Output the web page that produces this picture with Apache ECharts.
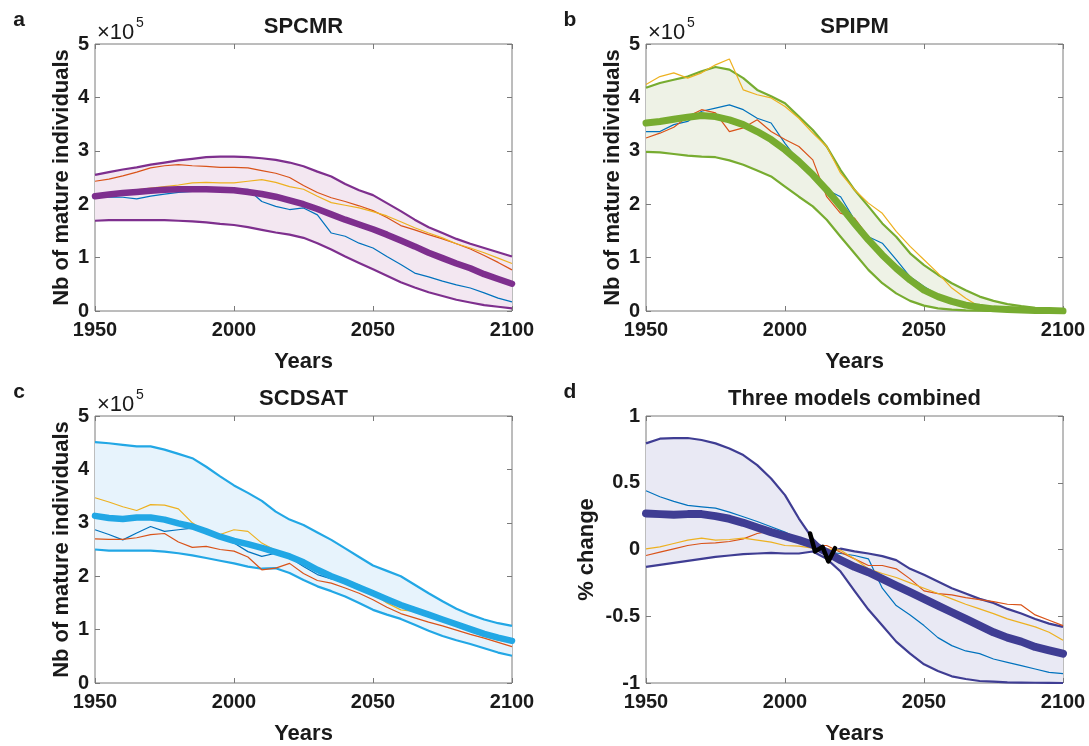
<!DOCTYPE html>
<html><head><meta charset="utf-8">
<script src="https://cdn.jsdelivr.net/npm/echarts@6/dist/echarts.min.js"></script>
<style>html,body{margin:0;padding:0;background:#fff}#c{width:1089px;height:746px}</style>
</head><body><div id="c"></div>
<script>
// ---------- DATA ----------
const years = [1950,1955,1960,1965,1970,1975,1980,1985,1990,1995,2000,2005,2010,2015,2020,2025,2030,2035,2040,2045,2050,2055,2060,2065,2070,2075,2080,2085,2090,2095,2100];
const xTicks = [1950, 2000, 2050, 2100];

// Panel a: SPCMR (x10^5)
const aUpper  = [2.55,2.60,2.65,2.69,2.74,2.78,2.82,2.85,2.88,2.89,2.89,2.88,2.86,2.83,2.78,2.71,2.61,2.52,2.38,2.26,2.17,2.02,1.87,1.71,1.57,1.46,1.35,1.26,1.18,1.10,1.02];
const aMean   = [2.15,2.18,2.21,2.23,2.25,2.27,2.28,2.28,2.28,2.27,2.26,2.23,2.19,2.14,2.07,2.00,1.91,1.81,1.71,1.62,1.53,1.43,1.32,1.21,1.09,0.99,0.89,0.80,0.69,0.60,0.51];
const aLower  = [1.69,1.70,1.70,1.70,1.70,1.70,1.69,1.68,1.66,1.63,1.61,1.57,1.52,1.47,1.43,1.37,1.27,1.15,1.02,0.90,0.78,0.66,0.54,0.44,0.35,0.28,0.21,0.16,0.11,0.08,0.05];
const aBlue   = [2.15,2.13,2.13,2.10,2.15,2.19,2.22,2.24,2.26,2.27,2.28,2.28,2.05,1.96,1.90,1.93,1.80,1.46,1.40,1.27,1.18,1.02,0.87,0.71,0.64,0.56,0.49,0.43,0.34,0.24,0.17];
const aRed    = [2.43,2.47,2.53,2.60,2.68,2.72,2.74,2.72,2.71,2.69,2.69,2.68,2.63,2.58,2.50,2.35,2.22,2.12,2.05,1.97,1.88,1.75,1.60,1.52,1.43,1.35,1.26,1.16,1.04,0.91,0.77];
const aYellow = [2.18,2.21,2.24,2.27,2.30,2.33,2.36,2.40,2.41,2.40,2.40,2.43,2.46,2.41,2.33,2.28,2.15,2.03,1.98,1.93,1.86,1.78,1.67,1.56,1.46,1.37,1.26,1.18,1.09,0.99,0.89];

// Panel b: SPIPM (x10^5)
const bUpper  = [4.18,4.27,4.33,4.39,4.49,4.57,4.52,4.36,4.14,4.02,3.89,3.64,3.39,3.08,2.64,2.27,1.96,1.64,1.39,1.08,0.86,0.68,0.52,0.39,0.27,0.19,0.13,0.09,0.06,0.04,0.02];
const bMean   = [3.52,3.55,3.59,3.63,3.66,3.64,3.58,3.49,3.36,3.21,3.02,2.80,2.55,2.27,1.96,1.64,1.33,1.05,0.80,0.58,0.39,0.27,0.18,0.11,0.07,0.04,0.03,0.02,0.01,0.01,0.00];
const bLower  = [2.98,2.97,2.94,2.91,2.89,2.88,2.82,2.74,2.63,2.52,2.33,2.14,1.96,1.71,1.39,1.08,0.77,0.52,0.33,0.19,0.10,0.05,0.025,0.01,0.005,0,0,0,0,0,0];
const bBlue   = [3.36,3.36,3.49,3.55,3.74,3.80,3.86,3.77,3.61,3.52,3.14,2.80,2.61,2.27,2.14,1.71,1.39,1.27,0.96,0.64,0.46,0.30,0.18,0.10,0.05,0.03,0.01,0,0,0,0];
const bRed    = [3.24,3.33,3.44,3.64,3.77,3.71,3.36,3.43,3.58,3.36,3.21,3.08,2.83,2.14,1.83,1.74,1.39,1.08,0.77,0.55,0.39,0.25,0.15,0.08,0.04,0.02,0.01,0,0,0,0];
const bYellow = [4.24,4.39,4.46,4.36,4.46,4.61,4.72,4.14,4.05,3.99,3.83,3.61,3.33,3.08,2.58,2.27,2.02,1.83,1.49,1.21,0.96,0.71,0.43,0.24,0.08,0.03,0.01,0,0,0,0];

// Panel c: SCDSAT (x10^5)
const cUpper  = [4.51,4.49,4.46,4.43,4.43,4.37,4.29,4.21,4.05,3.87,3.70,3.56,3.41,3.21,3.06,2.96,2.82,2.68,2.52,2.36,2.20,2.10,2.00,1.84,1.68,1.53,1.39,1.28,1.19,1.12,1.07];
const cMean   = [3.13,3.09,3.07,3.10,3.10,3.06,2.99,2.93,2.84,2.74,2.66,2.60,2.53,2.45,2.37,2.26,2.12,2.00,1.90,1.79,1.68,1.57,1.46,1.37,1.28,1.19,1.10,1.01,0.92,0.85,0.79];
const cLower  = [2.50,2.48,2.48,2.48,2.48,2.46,2.43,2.39,2.34,2.29,2.24,2.18,2.14,2.15,2.06,1.93,1.81,1.72,1.62,1.50,1.37,1.28,1.20,1.09,0.98,0.88,0.80,0.73,0.65,0.57,0.51];
const cBlue   = [2.87,2.78,2.68,2.81,2.93,2.84,2.87,2.90,2.88,2.75,2.62,2.46,2.37,2.43,2.35,2.18,2.03,1.95,1.90,1.83,1.70,1.58,1.45,1.38,1.30,1.21,1.12,1.02,0.92,0.83,0.77];
const cRed    = [2.70,2.69,2.69,2.72,2.78,2.80,2.64,2.54,2.56,2.50,2.47,2.36,2.12,2.15,2.24,2.05,1.92,1.87,1.78,1.68,1.56,1.42,1.30,1.22,1.14,1.07,0.99,0.91,0.84,0.76,0.68];
const cYellow = [3.47,3.39,3.30,3.23,3.34,3.33,3.26,3.00,2.83,2.78,2.87,2.84,2.62,2.48,2.40,2.25,2.15,1.97,1.90,1.84,1.68,1.50,1.37,1.34,1.28,1.19,1.09,0.97,0.87,0.80,0.76];

// Panel d: three models combined (% change)
const dUpper  = [0.795,0.83,0.835,0.835,0.82,0.795,0.757,0.707,0.632,0.532,0.407,0.232,0.08,-0.02,0.006,-0.014,-0.03,-0.05,-0.08,-0.145,-0.19,-0.24,-0.29,-0.33,-0.37,-0.40,-0.445,-0.48,-0.52,-0.555,-0.58];
const dMean   = [0.27,0.265,0.26,0.265,0.265,0.25,0.23,0.20,0.165,0.13,0.10,0.07,0.035,-0.02,-0.08,-0.13,-0.17,-0.22,-0.27,-0.32,-0.37,-0.42,-0.47,-0.52,-0.57,-0.62,-0.66,-0.69,-0.73,-0.755,-0.78];
const dLower  = [-0.13,-0.115,-0.10,-0.085,-0.07,-0.055,-0.045,-0.035,-0.03,-0.025,-0.03,-0.03,-0.015,-0.07,-0.165,-0.31,-0.45,-0.57,-0.69,-0.78,-0.86,-0.91,-0.95,-0.97,-0.985,-0.99,-0.995,-0.997,-0.998,-0.999,-1.0];
const dBlue   = [0.44,0.395,0.36,0.33,0.32,0.31,0.28,0.245,0.21,0.17,0.13,0.08,0.02,-0.02,-0.03,-0.045,-0.07,-0.29,-0.42,-0.49,-0.57,-0.66,-0.72,-0.76,-0.78,-0.82,-0.845,-0.87,-0.895,-0.92,-0.93];
const dRed    = [-0.045,-0.02,0.005,0.03,0.045,0.05,0.06,0.08,0.12,0.14,0.11,0.07,0.03,0.03,-0.02,-0.07,-0.12,-0.12,-0.145,-0.22,-0.31,-0.33,-0.34,-0.36,-0.375,-0.39,-0.41,-0.415,-0.49,-0.53,-0.57];
const dYellow = [0.005,0.02,0.045,0.07,0.085,0.07,0.075,0.085,0.07,0.055,0.03,0.025,0.01,0.005,-0.005,-0.07,-0.145,-0.18,-0.21,-0.25,-0.29,-0.33,-0.37,-0.41,-0.445,-0.48,-0.52,-0.55,-0.58,-0.62,-0.68];
// black hand-drawn mark in panel d
const markYears = [2009.0, 2010.8, 2013.5, 2015.6, 2018.0];
const markVals  = [0.12, -0.014, 0.02, -0.09, 0.01];

// ---------- STYLE / LAYOUT ----------
const FONT = "'Liberation Sans', Arial, Helvetica, sans-serif";
const AX = '#7a7a7a';
const TXT = '#1a1a1a';
const W = 417, H = 267;
const panels = [
  {left:95,  top:44,  min:0,  max:5, interval:1,   yName:'Nb of mature individuals', nameGap:22, title:'SPCMR', letter:'a',
   color:'#7E2F8E', fill:'#F3E7F1', meanW:6.5, upper:aUpper, mean:aMean, lower:aLower, blue:aBlue, red:aRed, yellow:aYellow, exp:true},
  {left:646, top:44,  min:0,  max:5, interval:1,   yName:'Nb of mature individuals', nameGap:22, title:'SPIPM', letter:'b',
   color:'#77AC30', fill:'#EEF2E6', meanW:7, upper:bUpper, mean:bMean, lower:bLower, blue:bBlue, red:bRed, yellow:bYellow, exp:true},
  {left:95,  top:416, min:0,  max:5, interval:1,   yName:'Nb of mature individuals', nameGap:22, title:'SCDSAT', letter:'c',
   color:'#22A7E5', fill:'#E7F3FC', meanW:6.5, upper:cUpper, mean:cMean, lower:cLower, blue:cBlue, red:cRed, yellow:cYellow, exp:true},
  {left:646, top:416, min:-1, max:1, interval:0.5, yName:'% change', nameGap:48, title:'Three models combined', letter:'d',
   color:'#3F3D93', fill:'#E9E9F4', meanW:8, upper:dUpper, mean:dMean, lower:dLower, blue:dBlue, red:dRed, yellow:dYellow, exp:false}
];

const zip = (xs, ys) => xs.map((x, i) => [x, ys[i]]);
const grid = [], xAxis = [], yAxis = [], series = [], graphic = [];

panels.forEach((p, i) => {
  grid.push({left:p.left, top:p.top, width:W, height:H, show:true, borderColor:AX, borderWidth:1});
  const tick = {show:true, inside:true, length:5, lineStyle:{color:AX, width:1}};
  const noLine = {show:false, onZero:false};
  const lbl = {color:TXT, fontSize:20, fontWeight:'bold', fontFamily:FONT};
  const nameStyle = {color:TXT, fontSize:22, fontWeight:'bold', fontFamily:FONT};
  xAxis.push({gridIndex:i, type:'value', min:1950, max:2100, interval:50, position:'bottom',
    axisLine:noLine, axisTick:tick, splitLine:{show:false},
    axisLabel:Object.assign({margin:9, formatter: v => xTicks.includes(v) ? String(v) : ''}, lbl),
    name:'Years', nameLocation:'middle', nameGap:40, nameTextStyle:nameStyle});
  xAxis.push({gridIndex:i, type:'value', min:1950, max:2100, interval:50, position:'top',
    axisLine:noLine, axisTick:tick, splitLine:{show:false}, axisLabel:{show:false}});
  yAxis.push({gridIndex:i, type:'value', min:p.min, max:p.max, interval:p.interval, position:'left',
    axisLine:noLine, axisTick:tick, splitLine:{show:false},
    axisLabel:Object.assign({margin:6}, lbl),
    name:p.yName, nameLocation:'middle', nameGap:p.nameGap, nameRotate:90, nameTextStyle:nameStyle});
  yAxis.push({gridIndex:i, type:'value', min:p.min, max:p.max, interval:p.interval, position:'right',
    axisLine:noLine, axisTick:tick, splitLine:{show:false}, axisLabel:{show:false}});

  const xi = 2*i, yi = 2*i;
  const base = {type:'line', xAxisIndex:xi, yAxisIndex:yi, symbol:'none', silent:true, animation:false};
  // shaded band between the upper and lower envelopes
  series.push({type:'custom', xAxisIndex:xi, yAxisIndex:yi, silent:true, animation:false, z:1,
    data:[[years[0], p.lower[0]]],
    renderItem: (params, api) => {
      const top = years.map((x, k) => api.coord([x, p.upper[k]]));
      const bot = years.map((x, k) => api.coord([x, p.lower[k]])).reverse();
      return {type:'polygon', shape:{points: top.concat(bot)}, style:{fill:p.fill, stroke:null}};
    }});
  series.push(Object.assign({}, base, {data:zip(years, p.upper), lineStyle:{color:p.color, width:2.2, join:'round'}, z:3}));
  series.push(Object.assign({}, base, {data:zip(years, p.lower), lineStyle:{color:p.color, width:2.2, join:'round'}, z:3}));
  series.push(Object.assign({}, base, {data:zip(years, p.blue),   lineStyle:{color:'#0072BD', width:1.2}, z:4}));
  series.push(Object.assign({}, base, {data:zip(years, p.red),    lineStyle:{color:'#D95319', width:1.2}, z:4}));
  series.push(Object.assign({}, base, {data:zip(years, p.yellow), lineStyle:{color:'#EDB120', width:1.2}, z:4}));
  series.push(Object.assign({}, base, {data:zip(years, p.mean), lineStyle:{color:p.color, width:p.meanW, join:'round', cap:'round'}, z:5}));
  if (i === 3) {
    series.push(Object.assign({}, base, {data:zip(markYears, markVals), lineStyle:{color:'#000', width:4.5, join:'round', cap:'round'}, z:6}));
  }

  const cx = p.left + W/2;
  graphic.push({type:'text', x:cx, y:p.top - 17, style:{text:p.title, fill:TXT, font:"bold 22px " + FONT, textAlign:'center', textVerticalAlign:'middle'}});
  graphic.push({type:'text', x:p.left - 76, y:p.top - 24, style:{text:p.letter, fill:TXT, font:"bold 21px " + FONT, textAlign:'center', textVerticalAlign:'middle'}});
  if (p.exp) {
    graphic.push({type:'text', x:p.left + 2, y:p.top - 11, style:{text:'×10', fill:TXT, font:"22px " + FONT, textAlign:'left', textVerticalAlign:'middle'}});
    graphic.push({type:'text', x:p.left + 41, y:p.top - 21, style:{text:'5', fill:TXT, font:"14px " + FONT, textAlign:'left', textVerticalAlign:'middle'}});
  }
});

const chart = echarts.init(document.getElementById('c'), null, {renderer:'canvas'});
chart.setOption({animation:false, backgroundColor:'#fff', grid, xAxis, yAxis, series, graphic});
</script></body></html>
